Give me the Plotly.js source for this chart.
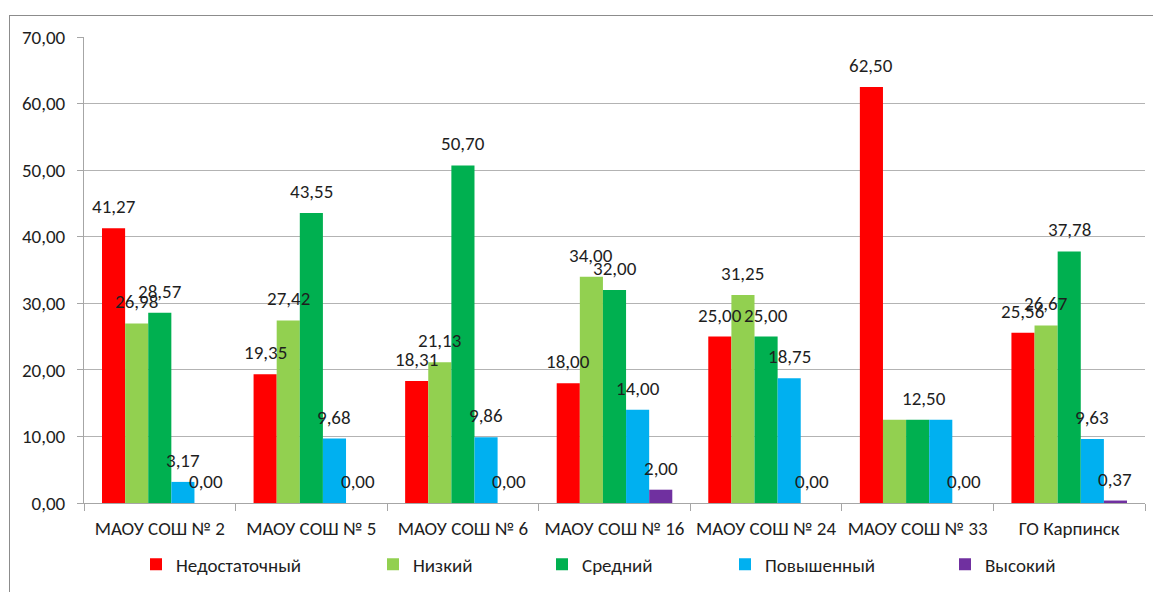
<!DOCTYPE html>
<html><head><meta charset="utf-8">
<script src="https://cdn.plot.ly/plotly-3.0.1.min.js"></script>
<style>
html,body{margin:0;padding:0;overflow:hidden;background:#fff}
#chart{position:absolute;left:0;top:0;width:1153px;height:592px}
#frame{position:absolute;left:9px;top:15px;width:1200px;height:700px;border:1px solid #8c8c8c;pointer-events:none}
</style></head><body>
<div id="chart"></div><div id="frame"></div>
<script>
const categories = ['МАОУ СОШ № 2','МАОУ СОШ № 5','МАОУ СОШ № 6','МАОУ СОШ № 16','МАОУ СОШ № 24','МАОУ СОШ № 33','ГО Карпинск'];
const seriesNames = ['Недостаточный','Низкий','Средний','Повышенный','Высокий'];
const nedostatochny = [41.27, 19.35, 18.31, 18.00, 25.00, 62.50, 25.56];
const nizkiy        = [26.98, 27.42, 21.13, 34.00, 31.25, 12.50, 26.67];
const sredniy       = [28.57, 43.55, 50.70, 32.00, 25.00, 12.50, 37.78];
const povyshenny    = [3.17, 9.68, 9.86, 14.00, 18.75, 12.50, 9.63];
const vysokiy       = [0.00, 0.00, 0.00, 2.00, 0.00, 0.00, 0.37];
const yTickVals = [0,10,20,30,40,50,60,70];
// labels not shown in the picture: [seriesIndex, categoryIndex]
const hiddenLabels = [[1,5],[3,5]];

const seriesValues = [nedostatochny, nizkiy, sredniy, povyshenny, vysokiy];
const colors = ['#FF0000','#92D050','#00B050','#00B0F0','#7030A0'];
const FONT = 'Carlito, Lato, "Open Sans", sans-serif';
const FS = 19;
const TXT = '#1e1e1e';
const M = {l:84, r:8, t:37, b:89};
const W = 1153, H = 592;
const plotW = W - M.l - M.r;
const plotH = H - M.t - M.b;
const bargap = 0.2375;
const catW = plotW / categories.length;
const barW = catW * (1 - bargap) / seriesValues.length;
const fmt = v => v.toFixed(2).replace('.', ',');

const traces = seriesValues.map((vals, i) => ({
  type:'bar', name: seriesNames[i], x: categories, y: vals,
  marker:{color: colors[i], line:{width:0}},
  legend: i === 0 ? 'legend' : 'legend' + (i+1),
  hoverinfo:'none'
}));

const annotations = [];
seriesValues.forEach((vals, i) => {
  vals.forEach((v, j) => {
    if (hiddenLabels.some(h => h[0] === i && h[1] === j)) return;
    annotations.push({
      x: categories[j], y: v, xref:'x', yref:'y',
      text: fmt(v), showarrow:false, yanchor:'bottom', xanchor:'center',
      xshift: (i - (seriesValues.length-1)/2) * barW + ((i===2 && j===5) ? 6 : 0),
      yshift: 8,
      font:{family:FONT, size:FS, color:TXT}
    });
  });
});

const textStarts = [176, 413, 582, 765, 985];
const layout = {
  width: W, height: H, margin: M,
  paper_bgcolor:'#fff', plot_bgcolor:'#fff',
  separators: ', ',
  barmode:'group', bargap: bargap, bargroupgap: 0,
  font:{family:FONT, size:FS, color:TXT},
  xaxis:{
    type:'category', showgrid:false, showline:true, linecolor:'#A6A6A6', linewidth:1,
    ticks:'outside', tickson:'boundaries', ticklen:7, tickcolor:'#A6A6A6', ticklabelstandoff: 8,
    tickfont:{family:FONT, size:FS, color:TXT}, zeroline:false, fixedrange:true
  },
  yaxis:{
    range:[0,70], tickvals: yTickVals, tickformat:'.2f',
    showgrid:true, gridcolor:'#B3B3B3', gridwidth:1,
    showline:true, linecolor:'#A6A6A6', linewidth:1,
    ticks:'outside', ticklen:6, tickcolor:'#A6A6A6', ticklabelstandoff: 8,
    zeroline:false, tickfont:{family:FONT, size:FS, color:TXT}, fixedrange:true
  },
  annotations: annotations,
  showlegend: true
};
textStarts.forEach((ts, i) => {
  const key = i === 0 ? 'legend' : 'legend' + (i+1);
  layout[key] = {
    orientation:'h', x: (ts - 40 - M.l) / plotW, xanchor:'left',
    y: -(564.5 - (H - M.b)) / plotH, yanchor:'middle',
    bgcolor:'rgba(0,0,0,0)', borderwidth:0,
    font:{family:FONT, size:FS, color:TXT}
  };
});

Plotly.newPlot('chart', traces, layout, {displayModeBar:false, staticPlot:true});
</script>
</body></html>
